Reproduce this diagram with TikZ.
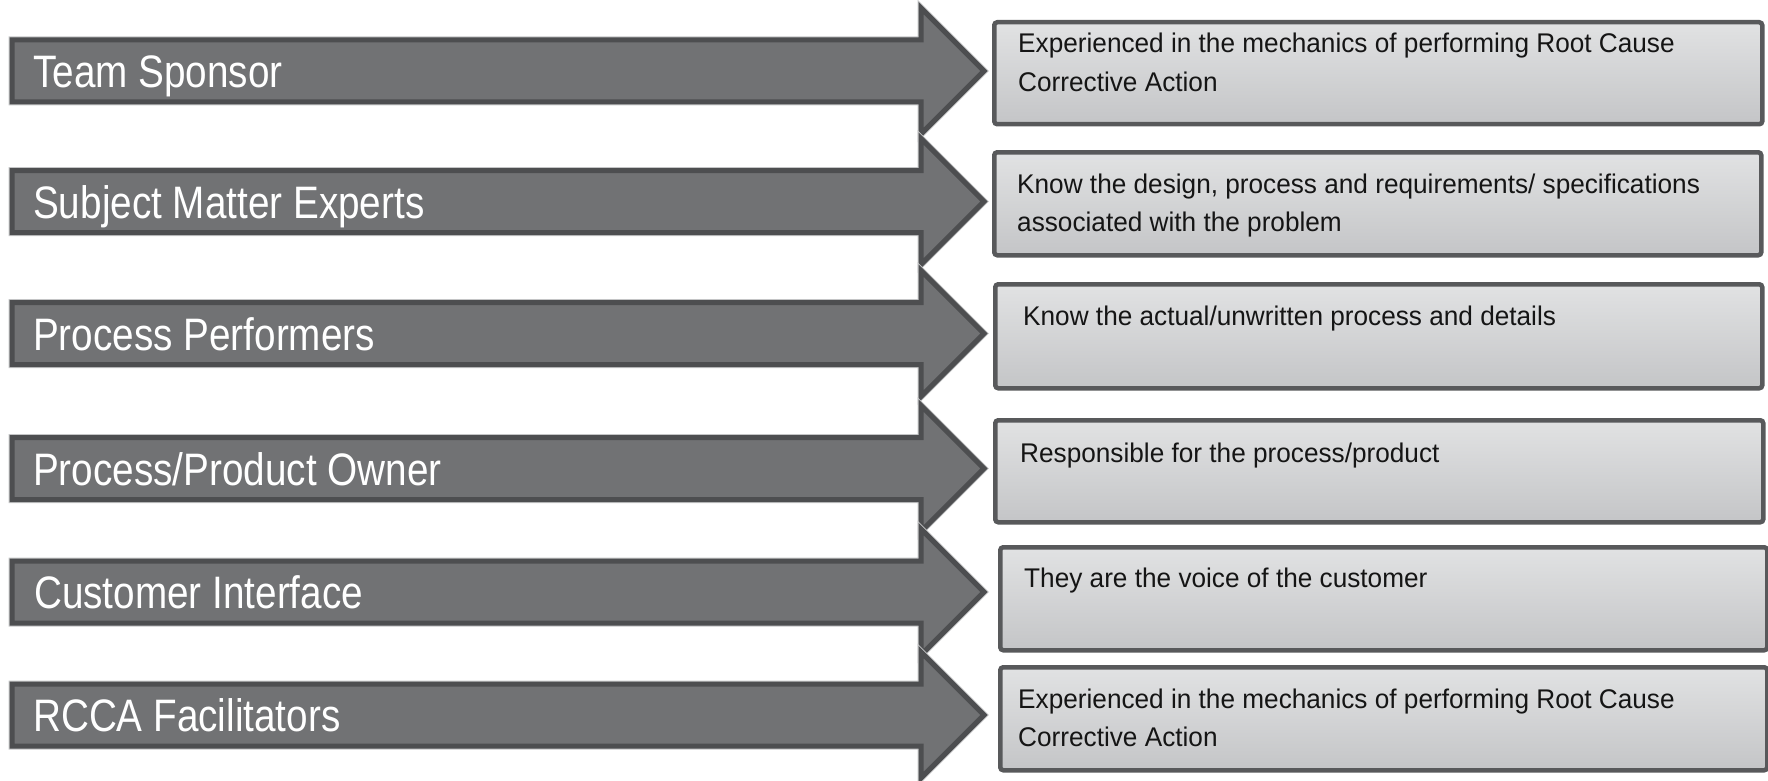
\documentclass[tikz,border=0pt]{standalone}
\usepackage{fontspec}
\setmainfont{Liberation Sans}
\newfontfamily\labelfont[FakeStretch=0.85]{Liberation Sans}
\newfontfamily\notefont[FakeStretch=0.97]{Liberation Sans}

\definecolor{arrowfill}{HTML}{717274}
\definecolor{arrowedge}{HTML}{4D4E50}
\definecolor{arrowhalo}{HTML}{C4C5C6}
\definecolor{boxedge}{HTML}{58595B}
\definecolor{boxtop}{HTML}{E1E2E3}
\definecolor{boxbottom}{HTML}{C4C5C7}
\definecolor{notetext}{HTML}{151515}

\tikzset{
  rolehalo/.style={draw=arrowhalo, line width=7pt, line join=miter},
  rolearrow/.style={fill=arrowfill, draw=arrowedge, line width=5pt, line join=miter},
  rolelabel/.style={anchor=base west, inner sep=0pt, text=white,
    font=\labelfont\fontsize{45.5}{54}\selectfont},
  notebox/.style={draw=boxedge, line width=4.5pt, rounded corners=3pt,
    top color=boxtop, bottom color=boxbottom, anchor=north west, inner sep=0pt},
  notetxt/.style={anchor=base west, inner sep=0pt, text=notetext,
    font=\notefont\fontsize{27}{38.5}\selectfont},
}

% role arrow centred on height #1
\newcommand{\rolearrowpath}[1]{%
  (12,#1-31) -- (921,#1-31) -- (921,#1-63) -- (984,#1) -- (921,#1+63)
  -- (921,#1+31) -- (12,#1+31) -- cycle}

\begin{document}
\begin{tikzpicture}[x=1pt, y=-1pt]
\useasboundingbox (0,0) rectangle (1768,781);

% arrows
\foreach \c in {71,201.5,333.5,468.5,592,715}{
  \draw[rolehalo] \rolearrowpath{\c};
  \draw[rolearrow] \rolearrowpath{\c};
}

% role labels
\node[rolelabel] (r1) at (33,88)    {Team Sponsor};
\node[rolelabel] (r2) at (33,218.5) {Subject Matter Experts};
\node[rolelabel] (r3) at (33,350.5) {Process Performers};
\node[rolelabel] (r4) at (33,485.5) {Process/Product Owner};
\node[rolelabel] (r5) at (34,608)   {Customer Interface};
\node[rolelabel] (r6) at (33,731.5) {RCCA Facilitators};

% description boxes
\node[notebox, minimum width=768pt, minimum height=102pt] (b1) at (992,20)  {};
\node[notebox, minimum width=767pt, minimum height=103pt] (b2) at (992,150) {};
\node[notebox, minimum width=767pt, minimum height=104pt] (b3) at (993,282) {};
\node[notebox, minimum width=768pt, minimum height=102pt] (b4) at (993,418) {};
\node[notebox, minimum width=767pt, minimum height=103pt] (b5) at (998,545) {};
\node[notebox, minimum width=767pt, minimum height=103pt] (b6) at (998,665) {};

% description texts
\node[notetxt] (t1) at (1018,53)
  {\parbox[t]{740pt}{\raggedright Experienced in the mechanics of performing Root Cause\\Corrective Action}};
\node[notetxt] (t2) at (1017,193)
  {\parbox[t]{740pt}{\raggedright Know the design, process and requirements/ specifications\\associated with the problem}};
\node[notetxt] (t3) at (1023,325) {Know the actual/unwritten process and details};
\node[notetxt] (t4) at (1020,462) {Responsible for the process/product};
\node[notetxt] (t5) at (1024,587) {They are the voice of the customer};
\node[notetxt] (t6) at (1018,708)
  {\parbox[t]{740pt}{\raggedright Experienced in the mechanics of performing Root Cause\\Corrective Action}};
\end{tikzpicture}
\end{document}
